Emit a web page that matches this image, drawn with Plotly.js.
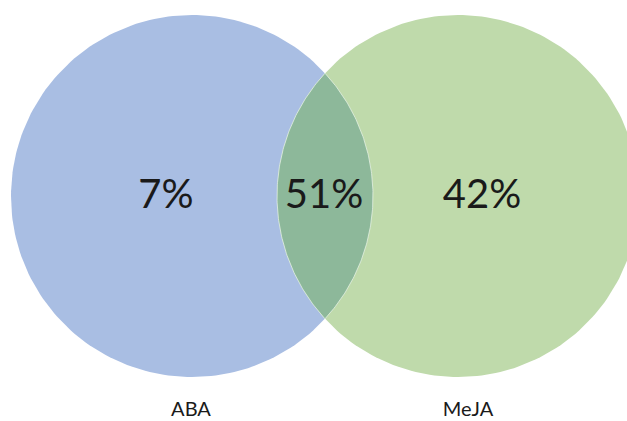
<!DOCTYPE html>
<html>
<head>
<meta charset="utf-8">
<script src="https://cdn.plot.ly/plotly-3.0.1.min.js"></script>
<style>html,body{margin:0;padding:0;background:#fff;}#chart{width:627px;height:421px;}</style>
</head>
<body>
<div id="chart"></div>
<script>
// Data
const setNames = ["ABA", "MeJA"];
const regionLabels = ["ABA only", "ABA ∩ MeJA", "MeJA only"];
const regionPercents = [7, 51, 42];

// Geometry (layout, in pixel-like axis units)
const W = 627, H = 421;
const cL = {x: 192, y: 196, r: 181};
const cR = {x: 458, y: 196, r: 181};
const colors = {left: "#A9BEE3", right: "#BFDAAB", overlap: "#8DB89A"};

function circlePts(c, n) {
  const xs = [], ys = [];
  for (let i = 0; i <= n; i++) {
    const t = 2 * Math.PI * i / n;
    xs.push(c.x + c.r * Math.cos(t));
    ys.push(c.y + c.r * Math.sin(t));
  }
  return {xs, ys};
}
function lensPts(a, b, n) {
  const d = b.x - a.x;
  const xi = (d * d - b.r * b.r + a.r * a.r) / (2 * d);
  const h = Math.sqrt(a.r * a.r - xi * xi);
  const xs = [], ys = [];
  const ta = Math.atan2(h, xi);
  for (let i = 0; i <= n; i++) {
    const t = -ta + 2 * ta * i / n;
    xs.push(a.x + a.r * Math.cos(t));
    ys.push(a.y + a.r * Math.sin(t));
  }
  const tb = Math.atan2(h, -(d - xi));
  for (let i = 0; i <= n; i++) {
    const t = tb + (2 * Math.PI - 2 * tb) * i / n;
    xs.push(b.x + b.r * Math.cos(t));
    ys.push(b.y + b.r * Math.sin(t));
  }
  xs.push(xs[0]); ys.push(ys[0]);
  return {xs, ys};
}

const L = circlePts(cL, 240), R = circlePts(cR, 240), O = lensPts(cL, cR, 120);

const traces = [
  {x: L.xs, y: L.ys, type: "scatter", mode: "lines", fill: "toself", fillcolor: colors.left,
   line: {width: 0, color: colors.left}, hoverinfo: "skip", name: setNames[0]},
  {x: R.xs, y: R.ys, type: "scatter", mode: "lines", fill: "toself", fillcolor: colors.right,
   line: {width: 0, color: colors.right}, hoverinfo: "skip", name: setNames[1]},
  {x: O.xs, y: O.ys, type: "scatter", mode: "lines", fill: "toself", fillcolor: colors.overlap,
   line: {width: 1, color: "rgba(235,245,235,0.7)"}, hoverinfo: "skip", name: regionLabels[1]},
  {x: [166, 324, 482], y: [198, 198, 198], type: "scatter", mode: "text",
   text: regionPercents.map(v => v + "%"), textposition: "middle center",
   textfont: {family: "Lato, 'Open Sans', sans-serif", size: 40, color: "#1a1a1a"},
   hoverinfo: "skip"},
  {x: [cL.x - 1, cR.x + 10], y: [411, 411], type: "scatter", mode: "text",
   text: setNames, textposition: "middle center",
   textfont: {family: "Lato, 'Open Sans', sans-serif", size: 20, color: "#1a1a1a"},
   hoverinfo: "skip"}
];

const layout = {
  width: W, height: H,
  margin: {l: 0, r: 0, t: 0, b: 0},
  paper_bgcolor: "#ffffff", plot_bgcolor: "#ffffff",
  showlegend: false,
  xaxis: {range: [0, W], visible: false, fixedrange: true},
  yaxis: {range: [H, 0], visible: false, fixedrange: true}
};

Plotly.newPlot("chart", traces, layout, {staticPlot: true, displayModeBar: false});
</script>
</body>
</html>
